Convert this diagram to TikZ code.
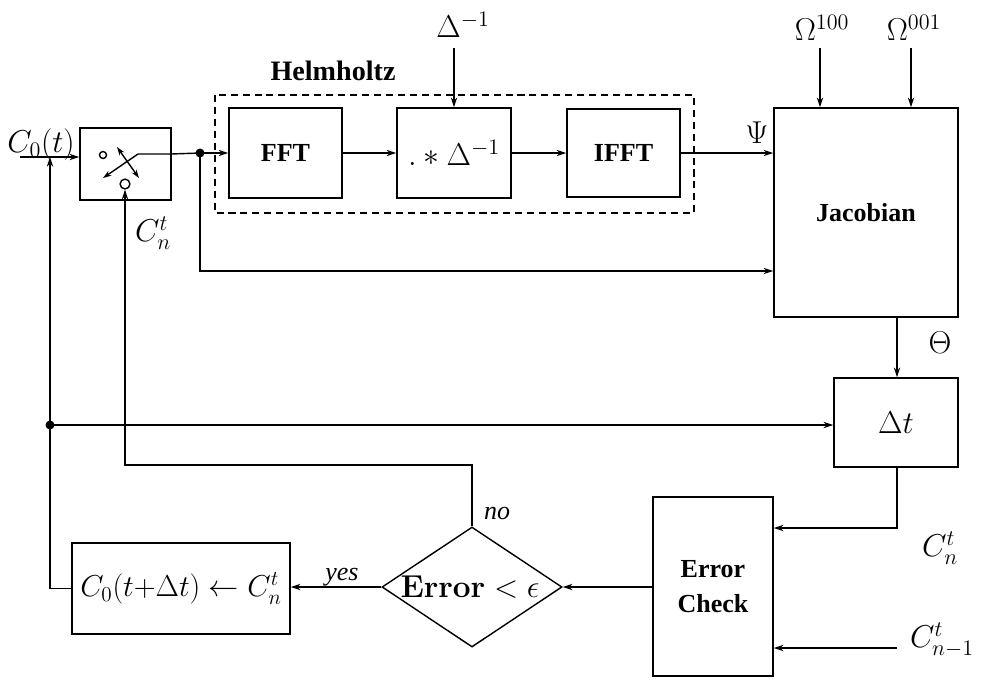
\RequirePackage{fix-cm}
\documentclass[tikz,border=0pt]{standalone}
\usepackage[no-math]{fontspec}
\setmainfont{Liberation Serif}
\usetikzlibrary{arrows.meta,shapes.geometric}
\tikzset{
  box/.style={draw, line width=1pt, inner sep=0pt},
  arr/.style={line width=1pt, -{Stealth[length=7pt,width=4.5pt]}},
  ln/.style={line width=1pt},
  lbl/.style={inner sep=0pt},
  mth/.style={font=\fontsize{22.5}{27}\selectfont},
  every node/.style={font=\fontsize{18.5}{25}\selectfont},
}
\begin{document}
\begin{tikzpicture}[x=0.025cm,y=-0.025cm]
\useasboundingbox (0,0) rectangle (984,680);
% boxes
\node[box, minimum width=2.275cm, minimum height=1.8cm] (sw) at (125.5,164) {};
\node[box, minimum width=2.825cm, minimum height=2.25cm] (fft) at (285.5,153) {\textbf{FFT}};
\node[box, mth, minimum width=2.85cm, minimum height=2.25cm] (mul) at (454,153) {$.\ast\Delta^{-1}$};
\node[box, minimum width=2.825cm, minimum height=2.2cm] (ifft) at (623.5,153) {\textbf{IFFT}};
\node[box, minimum width=4.6cm, minimum height=5.225cm] (jac) at (866,212.5) {\textbf{Jacobian}};
\node[box, mth, minimum width=3.1cm, minimum height=2.225cm] (dt) at (896,422.5) {$\Delta t$};
\node[box, minimum width=3.0cm, minimum height=4.475cm, align=center] (ec) at (713,586.5) {\textbf{Error}\\\textbf{Check}};
\node[draw, line width=1pt, diamond, minimum width=4.5cm, minimum height=3cm, inner sep=0pt] (dia) at (472,587) {};
\node[lbl, mth] (diat) at (470,587) {$\mathbf{Error}<\epsilon$};
\node[box, font=\fontsize{21.5}{26}\selectfont, minimum width=5.45cm, minimum height=2.275cm] (c0) at (181,588.5) {$C_0(t{+}\Delta t)\leftarrow C_n^t$};
% Helmholtz dashed box
\draw[line width=1pt, dash pattern=on 5pt off 3.5pt] (215,95) rectangle (694,213);
\node[lbl, font=\fontsize{20}{24}\selectfont] (helm) at (333,71) {\textbf{Helmholtz}};
% switch internals
\draw[ln] (103,155) circle (3.5);
\node[circle, draw, line width=1pt, minimum size=7pt, inner sep=0pt] (swin) at (125,184) {};
\draw[line width=1pt, {Stealth[length=6pt,width=4pt]}-{Stealth[length=6pt,width=4pt]}] (117,147) -- (139,178);
\draw[line width=1pt, -{Stealth[length=6pt,width=4pt]}] (138,154) -- (103,178);
% junctions
\fill (200,153) circle (4.5);
\coordinate (j1) at (200,153);
\fill (50,425) circle (4.5);
\coordinate (j2) at (50,425);
\draw[ln] (138,154) -- (171,154) -- (j1);
% labels
\node[lbl, mth] (c0t) at (41,145) {$C_0(t)$};
\node[lbl, mth] (cnt1) at (153,233) {$C_n^t$};
\node[lbl, mth] (dinv) at (463,25) {$\Delta^{-1}$};
\node[lbl, mth] (om1) at (822,28) {$\Omega^{100}$};
\node[lbl, mth] (om2) at (914,28) {$\Omega^{001}$};
\node[lbl, mth] (psi) at (757,133) {$\Psi$};
\node[lbl, mth] (theta) at (940,343) {$\Theta$};
\node[lbl, mth] (cnt2) at (940,548) {$C_n^t$};
\node[lbl, mth] (cnt3) at (942,640) {$C_{n-1}^t$};
\node[lbl] (yes) at (342,577) {\itshape yes};
\node[lbl] (no) at (497,513) {\itshape no};
% free ends
\coordinate (in0) at (20,157);
\coordinate (dtop) at (454,48);
\coordinate (o1) at (820,48);
\coordinate (o2) at (911,48);
\coordinate (cprev) at (897,648);
% connectors
\draw[arr] (in0) -- (sw.west |- in0);
\draw[arr] (j2) -- (50,157);
\draw[ln] (c0.west) -| (j2);
\draw[arr] (j2) -- (dt.west |- j2);
\draw[arr] (j1) -- (fft.west |- j1);
\draw[arr] (j1) |- (jac.west |- 0,271);
\draw[arr] (fft) -- (mul);
\draw[arr] (mul) -- (ifft);
\draw[arr] (ifft.east) -- (jac.west |- ifft.east);
\draw[arr] (dtop) -- (mul.north);
\draw[arr] (o1) -- (o1 |- jac.north);
\draw[arr] (o2) -- (o2 |- jac.north);
\draw[arr] (jac.south -| 897,0) -- (dt.north -| 897,0);
\draw[arr] (dt.south -| 897,0) |- (ec.east |- 0,528);
\draw[arr] (cprev) -- (ec.east |- cprev);
\draw[arr] (ec.west |- dia.east) -- (dia.east);
\draw[arr] (dia.west) -- (c0.east |- dia.west);
\draw[arr] (dia.north) |- (125,465) -- (swin.south);
\end{tikzpicture}
\end{document}
